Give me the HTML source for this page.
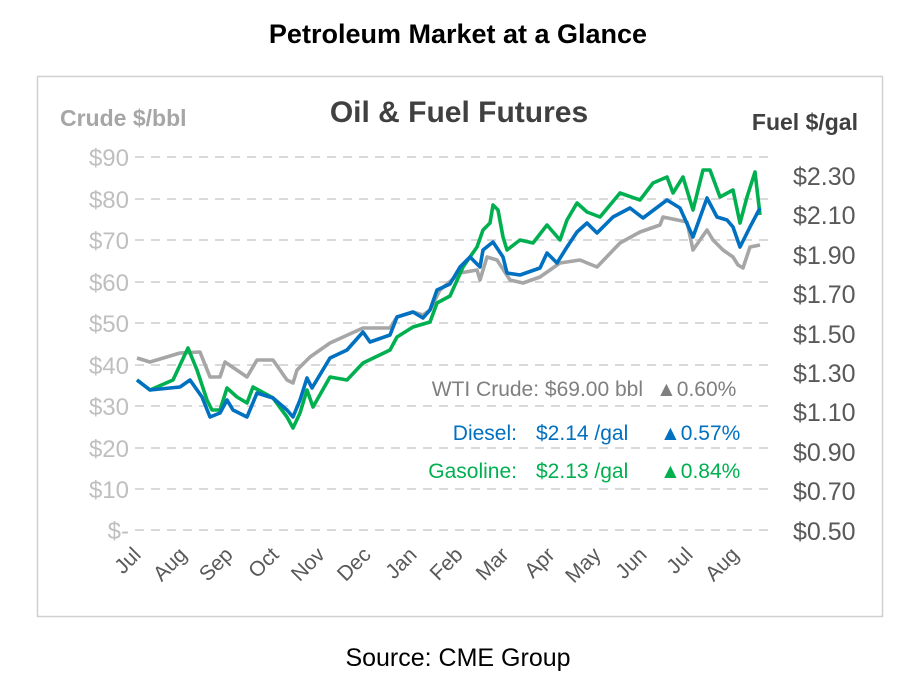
<!DOCTYPE html>
<html><head><meta charset="utf-8"><style>
body{margin:0;background:#fff;width:916px;height:688px;overflow:hidden;font-family:"Liberation Sans",sans-serif}
</style></head><body>
<svg width="916" height="688" xmlns="http://www.w3.org/2000/svg" font-family="Liberation Sans, sans-serif">
<text x="458" y="43" text-anchor="middle" font-size="27" font-weight="bold" fill="#000">Petroleum Market at a Glance</text>
<rect x="37.5" y="76.5" width="845" height="540" fill="#fff" stroke="#d0d0d0" stroke-width="1.5"/>
<text x="60" y="126" font-size="23" font-weight="bold" fill="#a6a6a6">Crude $/bbl</text>
<text x="459" y="122" text-anchor="middle" font-size="30" font-weight="bold" fill="#404040">Oil &amp; Fuel Futures</text>
<text x="858" y="130" text-anchor="end" font-size="23" font-weight="bold" fill="#404040">Fuel $/gal</text>
<g stroke="#d9d9d9" stroke-width="2" stroke-dasharray="9,7">
<line x1="135" x2="768" y1="157" y2="157"/><line x1="135" x2="768" y1="199" y2="199"/><line x1="135" x2="768" y1="240" y2="240"/><line x1="135" x2="768" y1="282" y2="282"/><line x1="135" x2="768" y1="323" y2="323"/><line x1="135" x2="768" y1="365" y2="365"/><line x1="135" x2="768" y1="406" y2="406"/><line x1="135" x2="768" y1="448" y2="448"/><line x1="135" x2="768" y1="489" y2="489"/><line x1="135" x2="768" y1="530" y2="530"/>
</g>
<g font-size="24" fill="#bfbfbf" text-anchor="end">
<text x="129" y="166">$90</text><text x="129" y="208">$80</text><text x="129" y="249">$70</text><text x="129" y="291">$60</text><text x="129" y="332">$50</text><text x="129" y="374">$40</text><text x="129" y="415">$30</text><text x="129" y="457">$20</text><text x="129" y="498">$10</text><text x="129" y="539">$-</text>
</g>
<g font-size="25" fill="#595959">
<text x="793" y="185">$2.30</text><text x="793" y="224">$2.10</text><text x="793" y="264">$1.90</text><text x="793" y="303">$1.70</text><text x="793" y="343">$1.50</text><text x="793" y="382">$1.30</text><text x="793" y="421">$1.10</text><text x="793" y="461">$0.90</text><text x="793" y="500">$0.70</text><text x="793" y="540">$0.50</text>
</g>
<g font-size="21" fill="#595959" text-anchor="end">
<text transform="translate(142,556) rotate(-45)">Jul</text>
<text transform="translate(188,556) rotate(-45)">Aug</text>
<text transform="translate(234,556) rotate(-45)">Sep</text>
<text transform="translate(280,556) rotate(-45)">Oct</text>
<text transform="translate(326,556) rotate(-45)">Nov</text>
<text transform="translate(372,556) rotate(-45)">Dec</text>
<text transform="translate(418,556) rotate(-45)">Jan</text>
<text transform="translate(464,556) rotate(-45)">Feb</text>
<text transform="translate(510,556) rotate(-45)">Mar</text>
<text transform="translate(556,556) rotate(-45)">Apr</text>
<text transform="translate(602,556) rotate(-45)">May</text>
<text transform="translate(648,556) rotate(-45)">Jun</text>
<text transform="translate(694,556) rotate(-45)">Jul</text>
<text transform="translate(740,556) rotate(-45)">Aug</text>
</g>
<g fill="none" stroke-width="3.6" stroke-linejoin="round">
<polyline stroke="#a6a6a6" points="137,358 150,362 180,353 200,352 210,377 220,377 225,362 247,377 257,360 273,360 287,380 293,383 297,370 310,357 330,343 363,328 390,328 397,317 413,312 423,315 430,310 440,290 460,273 477,270 480,280 487,257 497,260 510,280 523,283 540,277 560,263 580,260 597,267 620,243 640,232 660,225 663,217 687,222 693,250 707,230 713,240 723,250 733,257 738,265 743,268 750,247 760,245"/>
<polyline stroke="#00b050" points="137,380 150,390 173,380 188,348 197,370 207,400 212,410 220,410 227,388 237,397 247,403 253,387 273,398 287,417 293,428 300,413 307,390 313,407 330,377 347,380 363,363 390,350 397,337 413,327 430,322 437,303 450,296 463,267 477,247 483,230 490,223 493,205 498,210 503,237 507,250 520,240 533,243 547,225 560,240 567,220 577,203 587,212 600,217 620,193 640,200 653,183 667,177 673,193 683,177 693,210 703,170 710,170 720,197 733,190 740,223 747,197 755,172 760,215"/>
<polyline stroke="#0070c0" points="137,380 150,390 180,387 190,380 202,397 210,417 220,413 227,400 233,410 247,417 257,393 273,398 287,410 293,417 300,400 307,378 312,388 330,358 347,350 363,332 370,342 390,335 397,317 413,312 423,318 430,310 437,290 450,284 460,267 470,257 480,267 483,250 493,242 503,257 507,273 520,275 540,268 547,253 557,263 567,247 577,232 587,223 597,233 613,217 630,208 643,218 667,200 680,208 693,237 707,198 717,217 727,220 733,227 740,247 750,227 760,208"/>
</g>
<g font-size="21">
<text x="643" y="396" text-anchor="end" fill="#7f7f7f">WTI Crude: $69.00 bbl</text>
<text x="656" y="396" fill="#7f7f7f">▲0.60%</text>
<text x="517" y="440" text-anchor="end" fill="#0070c0">Diesel:</text>
<text x="536" y="440" fill="#0070c0">$2.14 /gal</text>
<text x="660" y="440" fill="#0070c0">▲0.57%</text>
<text x="517" y="478" text-anchor="end" fill="#00b050">Gasoline:</text>
<text x="536" y="478" fill="#00b050">$2.13 /gal</text>
<text x="660" y="478" fill="#00b050">▲0.84%</text>
</g>
<text x="458" y="666" text-anchor="middle" font-size="25" fill="#000">Source: CME Group</text>
</svg>
</body></html>
